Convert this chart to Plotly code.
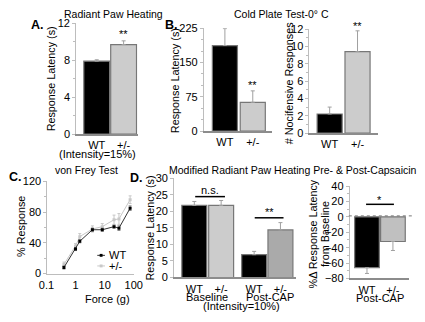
import plotly.graph_objects as go

W, H = 425, 322
FONT = "Liberation Sans, Arial, sans-serif"
FS = 11        # labels
FT = 10.5      # titles

# ---------------- data ----------------
groups = ["WT", "+/-"]
a_latency = [7.9, 9.7]
a_err = [0.15, 0.4]

b_latency = [187, 63]
b_latency_err = [37, 25]
b_nocif = [2.2, 9.4]
b_nocif_err = [0.8, 2.4]

c_force = [0.4, 1.0, 1.4, 3.8, 8.3, 21, 31, 75]
c_wt = [8, 32, 42, 57, 57, 61, 59, 85]
c_wt_err = [2, 2, 2, 2, 2, 2, 3, 3]
c_het = [12, 36, 48, 58, 61, 70, 71, 96]
c_het_err = [3, 3, 4, 4, 4, 6, 7, 5]

d_labels = ["WT", "+/-", "WT", "+/-"]
d_latency = [21.8, 21.8, 6.9, 14.4]
d_latency_err = [1.2, 1.5, 1.0, 2.2]
d_change = [-66, -32]
d_change_err = [7.5, 11.7]

BLACK = "#000000"
LIGHT = "#cccccc"
MID = "#aaaaaa"
EDGE = "#777777"
ERR = "#a0a0a0"


def px(x):
    return x / W


def py(y):
    return 1 - y / H


fig = go.Figure()


def bar(xpos, vals, colors, err, ax, width, neg=False):
    ey = dict(type="data", symmetric=False, color=ERR, thickness=1, width=2)
    if neg:
        ey["array"] = [0] * len(err)
        ey["arrayminus"] = err
    else:
        ey["array"] = err
        ey["arrayminus"] = [0] * len(err)
    fig.add_trace(go.Bar(
        x=xpos, y=vals, width=width,
        marker=dict(color=colors, line=dict(color=EDGE, width=1.2)),
        error_y=ey, xaxis="x" + ax, yaxis="y" + ax, showlegend=False,
        hoverinfo="skip"))


# A
bar([0, 1], a_latency, [BLACK, LIGHT], a_err, "", 0.96)
# B left
bar([0, 1], b_latency, [BLACK, LIGHT], b_latency_err, "2", 0.9)
# B right
bar([0, 1], b_nocif, [BLACK, LIGHT], b_nocif_err, "3", 0.9)
# D left
d_pos = [0, 1, 2.23, 3.21]
bar(d_pos, d_latency, [BLACK, LIGHT, BLACK, MID], d_latency_err, "5", 0.93)
# D right
bar([0, 1], d_change, [BLACK, "#c0c0c0"], d_change_err, "6", 0.95, neg=True)

# C lines
fig.add_trace(go.Scatter(
    x=c_force, y=c_het, mode="lines+markers",
    line=dict(color="#c8c8c8", width=1), marker=dict(symbol="square", size=3, color="#c8c8c8"),
    error_y=dict(type="data", array=c_het_err, color="#c8c8c8", thickness=1, width=1.5),
    xaxis="x4", yaxis="y4", showlegend=False, hoverinfo="skip"))
fig.add_trace(go.Scatter(
    x=c_force, y=c_wt, mode="lines+markers",
    line=dict(color="#333333", width=1), marker=dict(symbol="square", size=3, color="#000000"),
    error_y=dict(type="data", array=c_wt_err, color="#888888", thickness=1, width=1.5),
    xaxis="x4", yaxis="y4", showlegend=False, hoverinfo="skip"))

tickfont = dict(family=FONT, size=FS, color="black")
YLINE = "#bdbdbd"
XLINE = "#8c8c8c"


def yax(top, bottom, left, rng, dtick, minor=None, **kw):
    d = dict(domain=[py(bottom), py(top)], range=rng, dtick=dtick,
             showline=True, linecolor=YLINE, linewidth=1, ticks="outside",
             ticklen=3, tickcolor=YLINE, showgrid=False, zeroline=False,
             tickfont=tickfont, position=px(left), fixedrange=True)
    if minor:
        d["minor"] = dict(dtick=minor, ticks="outside", ticklen=2, tickcolor=YLINE)
    d.update(kw)
    return d


def xax(left, right, rng, tickvals, ticktext, yanchor, **kw):
    d = dict(domain=[px(left), px(right)], range=rng, tickvals=tickvals,
             ticktext=ticktext, showline=True, linecolor=XLINE, linewidth=2,
             ticks="", showgrid=False, zeroline=False, tickfont=tickfont,
             anchor=yanchor, fixedrange=True)
    d.update(kw)
    return d


fig.update_layout(
    width=W, height=H, autosize=False,
    margin=dict(l=0, r=0, t=0, b=0),
    paper_bgcolor="white", plot_bgcolor="white",
    font=dict(family=FONT, size=FS, color="black"),
    bargap=0,
    # A
    xaxis=xax(70, 135, [-0.8, 1.52], [0, 1], groups, "y"),
    yaxis=yax(18, 133, 70, [0, 12], 4, minor=2, anchor="free"),
    # B left
    xaxis2=xax(203, 275, [-0.79, 1.69], [0, 1], groups, "y2"),
    yaxis2=yax(23, 130, 203, [0, 225], 75, minor=25, anchor="free"),
    # B right
    xaxis3=xax(313, 385, [-0.76, 1.72], [0, 1], groups, "y3"),
    yaxis3=yax(24, 132, 313, [0, 12], 2, minor=1, anchor="free"),
    # C
    xaxis4=dict(domain=[px(40), px(131)], type="log", range=[-1, 2],
                tickvals=[0.1, 1, 10, 100], ticktext=["0.1", "1", "10", "100"],
                showline=True, linecolor=YLINE, linewidth=1, ticks="",
                showgrid=False, zeroline=False, ticklabelstandoff=1,
                tickfont=tickfont, anchor="y4", fixedrange=True),
    yaxis4=yax(182, 278, 40, [0, 120], 40, minor=20, anchor="free"),
    # D left
    xaxis5=xax(172, 300, [-0.79, 3.79], d_pos, d_labels, "y5"),
    yaxis5=yax(179, 282, 172, [0, 30], 5, anchor="free"),
    # D right
    xaxis6=xax(355, 418, [-0.7, 1.63], [0, 1], groups, "y6"),
    yaxis6=yax(187, 283, 355, [-80, 40], 20, minor=10, anchor="free"),
)

ann = []


def text(x, y, s, size=FS, bold=False, angle=0, xanchor="center"):
    if bold:
        s = "<b>" + s + "</b>"
    ann.append(dict(x=px(x), y=py(y), xref="paper", yref="paper", text=s,
                    showarrow=False, xanchor=xanchor, yanchor="middle",
                    textangle=angle, font=dict(family=FONT, size=size, color="black")))


# panel letters
text(31, 20, "A.", 12.5, bold=True)
text(170, 20, "B.", 12.5, bold=True)
text(8, 178, "C.", 12.5, bold=True)
text(134, 179, "D.", 12.5, bold=True)

# titles
text(110, 8, "Radiant Paw Heating", FT)
text(285, 8, "Cold Plate Test-0° C", FT)
text(82, 170, "von Frey Test", FT)
text(297, 170, "Modified Radiant Paw Heating Pre- & Post-Capsaicin", FT)

# axis titles
AT = 10.8
text(45, 76, "Response Latency (s)", AT, angle=-90)
text(174, 78, "Response Latency (s)", AT, angle=-90)
text(293, 80, "# Nocifensive Responses", AT, angle=-90)
text(14, 229, "% Response", AT, angle=-90)
text(148, 231, "Response Latency (s)", AT, angle=-90)
text(318, 237, "%Δ Response Latency", AT, angle=-90)
text(330, 237, "from Baseline", AT, angle=-90)
text(104, 304, "Force (g)")

# extra x labels
text(93, 154, "(Intensity=15%)")
text(207, 302, "Baseline")
text(273, 302, "Post-CAP")
text(243, 312, "(Intensity=10%)")
text(388, 303, "Post-CAP")

# significance
text(120, 29, "**")
text(255, 82, "**")
text(364, 21, "**")
text(210, 191, "n.s.")
text(272, 214, "**")
text(387, 201, "*")

# legend for C
text(103, 259, "WT", xanchor="left")
text(103, 270, "+/-", xanchor="left")

shapes = []


def seg(x0, y0, x1, y1, color="black", width=1.5, dash=None):
    line = dict(color=color, width=width)
    if dash:
        line["dash"] = dash
    shapes.append(dict(type="line", xref="paper", yref="paper",
                       x0=px(x0), y0=py(y0), x1=px(x1), y1=py(y1), line=line))


seg(195, 198, 226, 198)
seg(257, 220, 287, 220)
seg(373, 206, 402, 206)
seg(355, 218, 421, 218, color="#777777", width=1, dash="dot")
seg(93, 259, 101, 259, color="#333333", width=1)
seg(93, 270, 101, 270, color="#c8c8c8", width=1)
shapes.append(dict(type="rect", xref="paper", yref="paper", x0=px(95.5), x1=px(98.5),
                   y0=py(260.5), y1=py(257.5), fillcolor="black", line=dict(width=0)))
shapes.append(dict(type="rect", xref="paper", yref="paper", x0=px(95.5), x1=px(98.5),
                   y0=py(271.5), y1=py(268.5), fillcolor="#c8c8c8", line=dict(width=0)))

fig.update_layout(annotations=ann, shapes=shapes)
fig.write_html("out.html", config={"displayModeBar": False, "staticPlot": True},
               post_script="document.body.style.margin='0';")
